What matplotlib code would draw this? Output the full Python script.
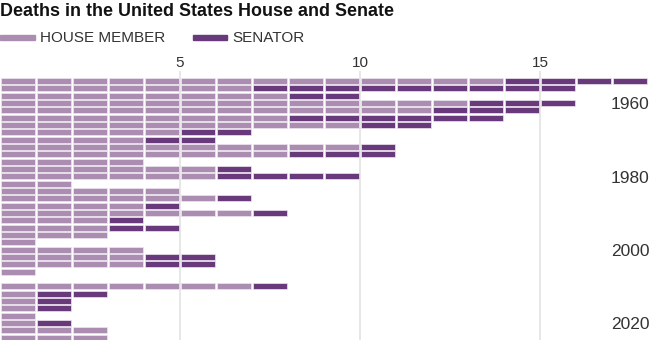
import matplotlib.pyplot as plt
from matplotlib.patches import Rectangle
from matplotlib.transforms import blended_transform_factory

# one row per Congress, 83rd (1953) to 118th (2023)
congress_start = list(range(1953, 2024, 2))
house_deaths = [14, 7, 8, 13, 12, 8, 10, 5, 4, 10,
                8, 4, 6, 6, 2, 5, 6, 4, 7, 3,
                3, 3, 1, 4, 4, 4, 1, 0, 7, 1,
                1, 1, 1, 1, 3, 3]
senate_deaths = [4, 9, 2, 3, 3, 6, 2, 2, 2, 1,
                 3, 0, 1, 4, 0, 0, 1, 1, 1, 1,
                 2, 0, 0, 0, 2, 2, 0, 0, 1, 2,
                 1, 1, 0, 1, 0, 0]
year_labels = [1960, 1980, 2000, 2020]
x_ticks = [5, 10, 15]

house_color = "#ab8db1"
senate_color = "#693a7b"
text_color = "#333333"

plt.rcParams['font.family'] = ['Liberation Sans', 'DejaVu Sans']

fig = plt.figure(figsize=(6.5, 3.4), dpi=100)
ax = fig.add_axes([0, 0, 1, 1 - 71 / 340])

# each death is one block, house members first then senators
ys, lefts, colors = [], [], []
for year, h, s in zip(congress_start, house_deaths, senate_deaths):
    for i in range(h + s):
        ys.append(year)
        lefts.append(i + 0.04)
        colors.append(house_color if i < h else senate_color)

ax.barh(ys, 0.93, left=lefts, height=1.62, color=colors,
        edgecolor="#efe6f1", linewidth=0.5, zorder=3)

ax.set_xlim(0, 650 / 36)
ax.set_ylim(1953 + 2 * 35.33, 1953 - 2 * 1.36)

ax.xaxis.tick_top()
ax.set_xticks(x_ticks)
ax.set_xticklabels([str(t) for t in x_ticks], fontsize=11, color=text_color)
ax.tick_params(axis='x', length=0, pad=1)
ax.set_yticks([])
ax.grid(axis='x', color="#e3e3e3", linewidth=1.2, zorder=0)
ax.set_axisbelow(True)
for sp in ax.spines.values():
    sp.set_visible(False)

trans = blended_transform_factory(ax.transAxes, ax.transData)
for yr in year_labels:
    ax.text(0.999, yr - 0.5, str(yr), transform=trans, ha='right', va='center',
            fontsize=12.5, color=text_color)

# title
fig.text(0.0, 1 - 11 / 340, "Deaths in the United States House and Senate",
         fontsize=12.9, fontweight='bold', color="#121212", va='center')

# legend
W, H = 650, 340
fig.patches.append(Rectangle((0 / W, 1 - 40 / H), 35 / W, 5 / H,
                             transform=fig.transFigure, color=house_color))
fig.text(40 / W, 1 - 37.5 / H, "HOUSE MEMBER", fontsize=11,
         color=text_color, va='center')
fig.patches.append(Rectangle((193 / W, 1 - 40 / H), 34 / W, 5 / H,
                             transform=fig.transFigure, color=senate_color))
fig.text(232 / W, 1 - 37.5 / H, "SENATOR", fontsize=11,
         color=text_color, va='center')

plt.savefig("out.png", dpi=100)
